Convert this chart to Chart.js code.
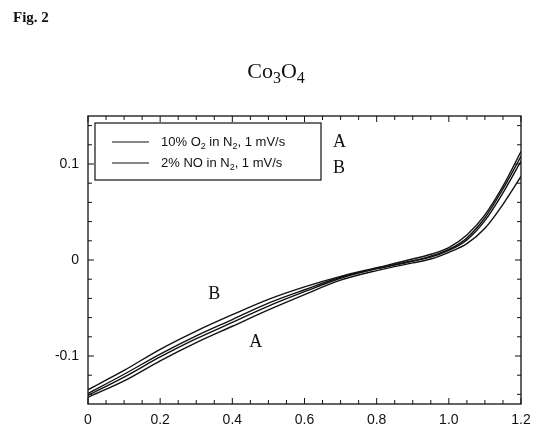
<!DOCTYPE html>
<html><head><meta charset="utf-8">
<script src="https://cdn.jsdelivr.net/npm/chart.js@4"></script>
<style>
html,body{margin:0;padding:0;background:#fff;}
#wrap{position:relative;width:548px;height:442px;}
#fig{position:absolute;left:13px;top:9px;font:bold 15px "Liberation Serif",serif;color:#111;}
#ttl{position:absolute;left:0;width:548px;top:58px;text-align:center;font:22px "Liberation Serif",serif;color:#111;padding-left:2px;}
#ttl sub{font-size:16px;vertical-align:-5px;line-height:0;}
canvas{position:absolute;left:0;top:0;}
</style></head>
<body><div id="wrap"><canvas id="c" width="548" height="442"></canvas>
<div id="fig">Fig. 2</div><div id="ttl">Co<sub>3</sub>O<sub>4</sub></div></div>
<script>
// data
const potential = [0, 0.1, 0.2, 0.3, 0.4, 0.5, 0.6, 0.7, 0.8, 0.9, 0.95, 1.0, 1.05, 1.1, 1.15, 1.2];
const currentB1 = [-0.135,-0.115,-0.093,-0.074,-0.057,-0.041,-0.028,-0.017,-0.008,0.001,0.006,0.013,0.026,0.047,0.077,0.113];
const currentB2 = [-0.139,-0.119,-0.098,-0.079,-0.062,-0.045,-0.031,-0.018,-0.009,-0.001,0.004,0.011,0.023,0.044,0.074,0.108];
const currentA1 = [-0.141,-0.122,-0.101,-0.082,-0.065,-0.048,-0.033,-0.019,-0.009,-0.001,0.003,0.010,0.021,0.041,0.070,0.103];
const currentA2 = [-0.143,-0.126,-0.105,-0.086,-0.069,-0.052,-0.036,-0.021,-0.011,-0.003,0.001,0.008,0.017,0.033,0.058,0.087];
const xTicks = [0, 0.2, 0.4, 0.6, 0.8, 1.0, 1.2];
const xTickLabels = ["0","0.2","0.4","0.6","0.8","1.0","1.2"];
const yTicks = [-0.1, 0, 0.1];
const yTickLabels = ["-0.1","0","0.1"];
const xMinor = [0,0.05,0.1,0.15,0.2,0.25,0.3,0.35,0.4,0.45,0.5,0.55,0.6,0.65,0.7,0.75,0.8,0.85,0.9,0.95,1.0,1.05,1.1,1.15,1.2];
const yMinor = [-0.14,-0.12,-0.1,-0.08,-0.06,-0.04,-0.02,0,0.02,0.04,0.06,0.08,0.1,0.12,0.14];
const legendLabels = [["10% O","2"," in N","2",", 1 mV/s"],["2% NO in N","2",", 1 mV/s"]];
const legendTags = ["A","B"];
const curveLabels = [{t:"B",x:0.35,y:-0.036},{t:"A",x:0.465,y:-0.086}];

const pts = (ys)=>potential.map((x,i)=>({x:x,y:ys[i]}));
const mk = (ys,lab)=>({label:lab,data:pts(ys),showLine:true,borderColor:'#111',borderWidth:1.4,pointRadius:0,cubicInterpolationMode:'monotone',fill:false});

const deco = {
  id:'deco',
  afterDraw(chart){
    const ctx=chart.ctx, a=chart.chartArea, xs=chart.scales.x, ys=chart.scales.y;
    ctx.save();
    ctx.strokeStyle='#111'; ctx.lineWidth=1.3;
    ctx.strokeRect(a.left,a.top,a.right-a.left,a.bottom-a.top);
    ctx.lineWidth=1;
    ctx.beginPath();
    xMinor.forEach(v=>{
      const p=xs.getPixelForValue(v); const L = xTicks.some(t=>Math.abs(t-v)<1e-6)?6:4;
      ctx.moveTo(p,a.bottom); ctx.lineTo(p,a.bottom-L);
      ctx.moveTo(p,a.top); ctx.lineTo(p,a.top+L);
    });
    yMinor.forEach(v=>{
      const p=ys.getPixelForValue(v); const L = yTicks.some(t=>Math.abs(t-v)<1e-6)?6:4;
      ctx.moveTo(a.left,p); ctx.lineTo(a.left+L,p);
      ctx.moveTo(a.right,p); ctx.lineTo(a.right-L,p);
    });
    ctx.stroke();
    // legend box
    const bx=a.left+7, by=a.top+7, bw=226, bh=57;
    ctx.lineWidth=1.2;
    ctx.strokeRect(bx,by,bw,bh);
    legendLabels.forEach((parts,i)=>{
      const ry=by+19+i*21;
      ctx.beginPath(); ctx.moveTo(bx+17,ry); ctx.lineTo(bx+54,ry); ctx.stroke();
      let x=bx+66;
      ctx.fillStyle='#111'; ctx.textBaseline='middle'; ctx.textAlign='left';
      parts.forEach((s,j)=>{
        const sub = (s==="2" && j>0);
        ctx.font = sub ? '9px "Liberation Sans",Arial' : '13px "Liberation Sans",Arial';
        ctx.fillText(s,x,sub?ry+5:ry);
        x+=ctx.measureText(s).width;
      });
      ctx.font='18px "Liberation Serif",serif';
      ctx.fillText(legendTags[i], bx+bw+12, ry+(i?5:0));
    });
    ctx.font='18px "Liberation Serif",serif'; ctx.textAlign='center';
    curveLabels.forEach(c=>ctx.fillText(c.t, xs.getPixelForValue(c.x), ys.getPixelForValue(c.y)));
    ctx.restore();
  }
};

new Chart(document.getElementById('c'),{
  type:'scatter',
  data:{datasets:[mk(currentA1,'A'),mk(currentA2,'A'),mk(currentB1,'B'),mk(currentB2,'B')]},
  options:{
    responsive:false, animation:false,
    layout:{padding:{left:0,right:27,top:116,bottom:0}},
    plugins:{legend:{display:false},tooltip:{enabled:false}},
    scales:{
      x:{type:'linear',min:0,max:1.2,
        afterBuildTicks(s){s.ticks=xTicks.map(v=>({value:v}));},
        afterFit(s){s.height=38;},
        grid:{display:false,drawTicks:false},
        border:{display:false},
        ticks:{padding:8,color:'#111',font:{family:'"Liberation Sans",Arial',size:14},
          callback:(v,i)=>xTickLabels[i]}},
      y:{type:'linear',min:-0.15,max:0.15,
        afterBuildTicks(s){s.ticks=yTicks.map(v=>({value:v}));},
        afterFit(s){s.width=88;},
        grid:{display:false,drawTicks:false},
        border:{display:false},
        ticks:{padding:9,color:'#111',font:{family:'"Liberation Sans",Arial',size:14},
          callback:(v,i)=>yTickLabels[i]}}
    }
  },
  plugins:[deco]
});
</script></body></html>
